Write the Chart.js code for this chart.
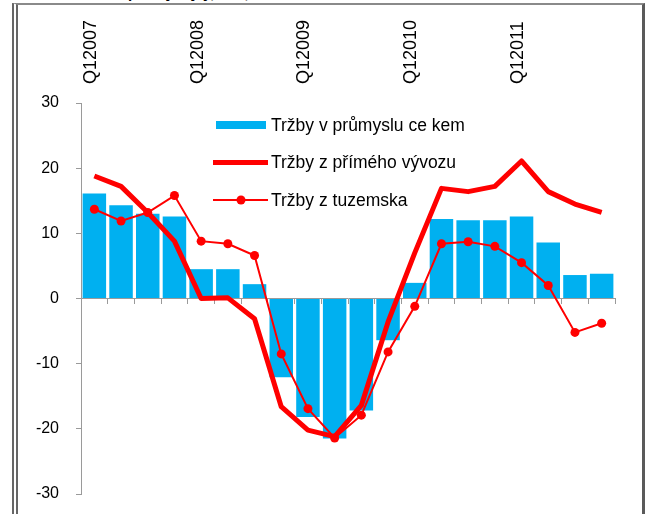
<!DOCTYPE html>
<html>
<head>
<meta charset="utf-8">
<script src="https://cdn.jsdelivr.net/npm/chart.js@4.4.0/dist/chart.umd.min.js"></script>
<style>
  body { margin: 0; background: #fff; overflow: hidden; }
  #frame {
    position: absolute; left: 12px; top: 3px; width: 624px; height: 540px;
    border-left: 6px double #666; border-top: 2px solid #8a8a8a; border-right: 3px solid #5a5a5a;
  }
  #title {
    position: absolute; left: 128px; top: -16px;
    font: bold 15px "Liberation Sans", Arial, sans-serif; color: #000; white-space: nowrap;
  }
  #wrap { position: absolute; left: 0; top: 0; width: 647px; height: 514px; }
</style>
</head>
<body>
<div id="title">průmysl y/y, v %,</div>
<div id="frame"></div>
<div id="wrap"><canvas id="trzby"></canvas></div>
<script>
const quarters = [
  'Q12007', 'Q22007', 'Q32007', 'Q42007',
  'Q12008', 'Q22008', 'Q32008', 'Q42008',
  'Q12009', 'Q22009', 'Q32009', 'Q42009',
  'Q12010', 'Q22010', 'Q32010', 'Q42010',
  'Q12011', 'Q22011', 'Q32011', 'Q42011'
];
const trzbyPrumysl = [16.1, 14.3, 13.0, 12.6, 4.5, 4.5, 2.2, -12.1, -18.2, -21.5, -17.2, -6.4, 2.4, 12.2, 12.0, 12.0, 12.6, 8.6, 3.6, 3.8];
const trzbyVyvoz = [18.8, 17.2, 13.2, 8.8, 0.0, 0.1, -3.1, -16.6, -20.2, -21.2, -16.4, -3.6, 7.0, 16.9, 16.4, 17.2, 21.1, 16.4, 14.5, 13.2];
const trzbyTuzemsko = [13.7, 11.9, 13.2, 15.8, 8.8, 8.4, 6.6, -8.5, -16.9, -21.4, -17.9, -8.2, -1.2, 8.4, 8.7, 8.0, 5.5, 2.0, -5.2, -3.8];
const yTicks = [-30, -20, -10, 0, 10, 20, 30];

const FONT = '"Liberation Sans", Arial, sans-serif';

// legenda uvnitř grafu, pod sebou jako v originále
const insideLegend = {
  id: 'insideLegend',
  afterDraw(chart, args, opts) {
    const ctx = chart.ctx;
    ctx.save();
    ctx.font = '17.5px ' + FONT;
    ctx.textBaseline = 'middle';
    ctx.fillStyle = '#000';
    chart.data.datasets.forEach((ds, i) => {
      const y = opts.y + i * opts.gap;
      if (ds.type === 'line') {
        ctx.strokeStyle = ds.borderColor;
        ctx.lineWidth = ds.borderWidth;
        ctx.beginPath();
        ctx.moveTo(opts.x - 3, y);
        ctx.lineTo(opts.x + opts.w + 2, y);
        ctx.stroke();
        if (ds.pointRadius > 0) {
          ctx.fillStyle = ds.pointBackgroundColor;
          ctx.beginPath();
          ctx.arc(opts.x + opts.w / 2, y, ds.pointRadius, 0, Math.PI * 2);
          ctx.fill();
        }
      } else {
        ctx.fillStyle = ds.backgroundColor;
        ctx.fillRect(opts.x, y - 4, opts.w, 8);
      }
      ctx.fillStyle = '#000';
      ctx.fillText(ds.label, opts.x + opts.w + 5, y + 1);
    });
    ctx.restore();
  }
};

new Chart(document.getElementById('trzby'), {
  type: 'bar',
  data: {
    labels: quarters,
    datasets: [
      {
        label: 'Tržby v průmyslu ce kem',
        data: trzbyPrumysl,
        backgroundColor: '#00b0f0',
        barPercentage: 0.88,
        categoryPercentage: 1.0,
        order: 3
      },
      {
        type: 'line',
        label: 'Tržby z přímého vývozu',
        data: trzbyVyvoz,
        borderColor: '#ff0000',
        borderWidth: 5,
        pointRadius: 0,
        tension: 0,
        borderJoinStyle: 'round',
        order: 2
      },
      {
        type: 'line',
        label: 'Tržby z tuzemska',
        data: trzbyTuzemsko,
        borderColor: '#ff0000',
        borderWidth: 2,
        pointRadius: 4.5,
        pointBackgroundColor: '#ff0000',
        pointBorderWidth: 0,
        tension: 0,
        order: 1
      }
    ]
  },
  options: {
    responsive: true,
    maintainAspectRatio: false,
    animation: false,
    layout: { padding: { left: 0, top: 0, right: 32, bottom: 20 } },
    plugins: {
      legend: { display: false },
      tooltip: { enabled: false },
      insideLegend: { x: 216, y: 125, gap: 37.5, w: 50 }
    },
    scales: {
      x: {
        position: { y: 0 },
        offset: true,
        grid: { offset: true, drawOnChartArea: false, drawTicks: true, tickLength: 5, color: '#9a9a9a' },
        border: { color: '#9a9a9a' },
        ticks: { display: false },
        afterFit: (s) => { s.height = 0; s.paddingTop = 0; s.paddingBottom = 0; }
      },
      xTop: {
        type: 'category',
        position: 'top',
        offset: true,
        grid: { display: false },
        border: { display: false },
        ticks: {
          autoSkip: false,
          minRotation: 90,
          maxRotation: 90,
          padding: 11,
          labelOffset: 18,
          color: '#000',
          font: { family: FONT, size: 18 },
          callback: (v, i) => (i % 4 === 0 ? quarters[i] : '')
        },
        afterFit: (s) => { s.height = 103; s.paddingBottom = 0; }
      },
      y: {
        min: -30,
        max: 30,
        afterBuildTicks: (s) => { s.ticks = yTicks.map(v => ({ value: v })); },
        grid: { drawOnChartArea: false, tickLength: 5, color: '#9a9a9a' },
        border: { color: '#9a9a9a' },
        ticks: { color: '#000', padding: 17, font: { family: FONT, size: 16 } },
        afterFit: (s) => { s.width = 81; s.paddingTop = 0; s.paddingBottom = 0; }
      }
    }
  },
  plugins: [insideLegend]
});
</script>
</body>
</html>
